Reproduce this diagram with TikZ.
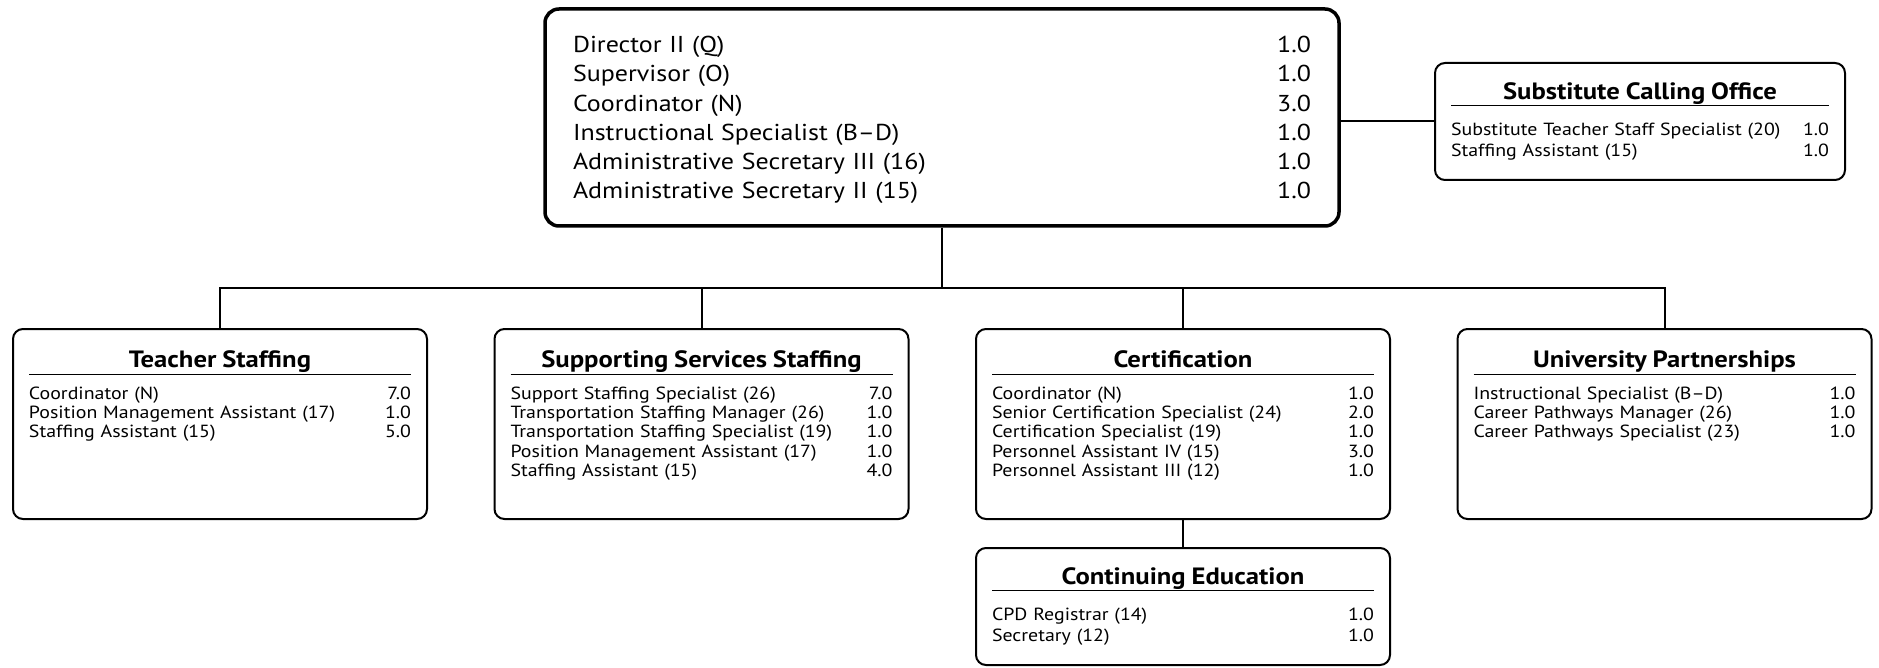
\documentclass[tikz,border=0pt]{standalone}
\usepackage{fontspec}
\setmainfont{PT Sans}[FakeStretch=1.13]
\usetikzlibrary{positioning}

\tikzset{
  headbox/.style={draw, line width=1.75pt, rounded corners=7pt,
    minimum width=397pt, minimum height=108.5pt, inner sep=0pt},
  unitbox/.style={draw, line width=1pt, rounded corners=5pt,
    minimum width=207pt, minimum height=95pt, inner sep=0pt},
  unittext/.style={anchor=north, text width=191pt, inner sep=0pt,
    font=\fontsize{8.8}{9.6}\selectfont},
  twoline/.style={font=\fontsize{8.8}{10.4}\selectfont},
  link/.style={line width=1pt}
}
\newcommand{\staffrow}[2]{\hbox to\linewidth{\strut#1\hfill#2}}
\newcommand{\unithead}[2][5.6pt]{\hbox to\linewidth{\hfill\fontsize{11.8}{13}\selectfont\bfseries #2\hfill
  \vrule height10pt depth3pt width0pt}%
  \kern5.8pt\hrule height0.5pt\kern#1}

\begin{document}
\begin{tikzpicture}[x=0.5pt,y=-0.5pt]
\useasboundingbox (0,0) rectangle (1879,668);
% director's office
\node[headbox] (head) at (942,117.5) {};
\node[text width=369pt, inner sep=0pt, font=\fontsize{11.5}{14.6}\selectfont] (headtext)
  at ([yshift=-1.2pt]head.center) {%
  \staffrow{Director II (Q)}{1.0}
  \staffrow{Supervisor (O)}{1.0}
  \staffrow{Coordinator (N)}{3.0}
  \staffrow{Instructional Specialist (B--D)}{1.0}
  \staffrow{Administrative Secretary III (16)}{1.0}
  \staffrow{Administrative Secretary II (15)}{1.0}};
% units
\node[unitbox, minimum width=205pt, minimum height=58.5pt] (subst) at (1640,121.5) {};
\node[unitbox] (teach) at (220,424) {};
\node[unitbox] (supp) at (701.5,424) {};
\node[unitbox] (cert) at (1183,424) {};
\node[unitbox] (univ) at (1664.5,424) {};
\node[unitbox, minimum height=58.5pt] (cont) at (1183,606.5) {};
% unit texts
\node[unittext, twoline, text width=189pt] (substtext) at ([yshift=-8.5pt]subst.north) {%
  \unithead[7.2pt]{Substitute Calling Office}
  \staffrow{Substitute Teacher Staff Specialist (20)}{1.0}
  \staffrow{Staffing Assistant (15)}{1.0}};
\node[unittext] (teachtext) at ([yshift=-9.7pt]teach.north) {%
  \unithead{Teacher Staffing}
  \staffrow{Coordinator (N)}{7.0}
  \staffrow{Position Management Assistant (17)}{1.0}
  \staffrow{Staffing Assistant (15)}{5.0}};
\node[unittext] (supptext) at ([yshift=-9.7pt]supp.north) {%
  \unithead{Supporting Services Staffing}
  \staffrow{Support Staffing Specialist (26)}{7.0}
  \staffrow{Transportation Staffing Manager (26)}{1.0}
  \staffrow{Transportation Staffing Specialist (19)}{1.0}
  \staffrow{Position Management Assistant (17)}{1.0}
  \staffrow{Staffing Assistant (15)}{4.0}};
\node[unittext] (certtext) at ([yshift=-9.7pt]cert.north) {%
  \unithead{Certification}
  \staffrow{Coordinator (N)}{1.0}
  \staffrow{Senior Certification Specialist (24)}{2.0}
  \staffrow{Certification Specialist (19)}{1.0}
  \staffrow{Personnel Assistant IV (15)}{3.0}
  \staffrow{Personnel Assistant III (12)}{1.0}};
\node[unittext] (univtext) at ([yshift=-9.7pt]univ.north) {%
  \unithead{University Partnerships}
  \staffrow{Instructional Specialist (B--D)}{1.0}
  \staffrow{Career Pathways Manager (26)}{1.0}
  \staffrow{Career Pathways Specialist (23)}{1.0}};
\node[unittext, twoline] (conttext) at ([yshift=-8.5pt]cont.north) {%
  \unithead[7.2pt]{Continuing Education}
  \staffrow{CPD Registrar (14)}{1.0}
  \staffrow{Secretary (12)}{1.0}};
% connectors
\coordinate (bus) at (942,288);
\draw[link] (head.south) -- (bus);
\draw[link] (teach.north) |- (bus) -| (univ.north);
\draw[link] (supp.north) -- (supp.north |- bus);
\draw[link] (cert.north) -- (cert.north |- bus);
\draw[link] (cert.south) -- (cont.north);
\draw[link] (head.east |- subst.west) -- (subst.west);
\end{tikzpicture}
\end{document}
